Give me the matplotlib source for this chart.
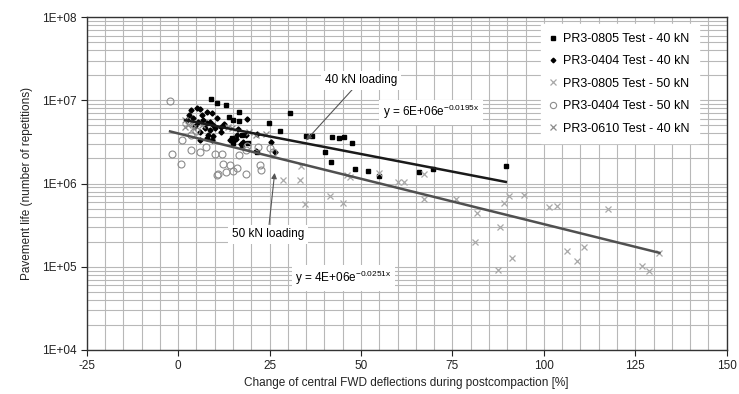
import numpy as np
import matplotlib.pyplot as plt
from matplotlib.ticker import FixedLocator, NullFormatter

plt.rcParams['font.family'] = ['Liberation Sans', 'DejaVu Sans']
plt.rcParams['axes.unicode_minus'] = False

# PR3-0805 Test - 40 kN (black squares)
sq_x = [8.9, 10.7, 13.0, 16.6, 14.9, 16.6, 13.9, 24.8, 17.4, 14.6, 15.1, 17.4, 19.2, 21.5,
        30.7, 27.8, 34.9, 36.7, 42.1, 43.9, 45.3, 47.6, 40.3, 41.7, 48.3, 51.9, 54.9,
        65.8, 69.7, 89.6]
sq_y = [1.03e7, 9.4e6, 8.9e6, 7.2e6, 5.8e6, 5.6e6, 6.3e6, 5.3e6, 3.8e6, 3.5e6, 3.04e6,
        2.9e6, 3.1e6, 2.4e6, 7.1e6, 4.3e6, 3.7e6, 3.7e6, 3.6e6, 3.5e6, 3.6e6, 3.1e6,
        2.4e6, 1.8e6, 1.48e6, 1.4e6, 1.23e6, 1.37e6, 1.48e6, 1.64e6]

# PR3-0404 Test - 40 kN (black diamonds)
dm_x = [3.4, 5.1, 6.0, 6.4, 7.8, 9.2, 2.3, 4.1, 5.5, 6.9, 7.8, 8.7, 9.6, 7.3, 8.7, 10.1,
        6.0, 8.2, 9.6, 6.0, 7.8, 9.2, 11.6, 11.6, 18.9, 16.3, 16.0, 14.2, 17.8, 18.5,
        25.3, 26.6, 21.4, 17.1, 15.8, 21.6, 4.5, 12.5, 3.0, 10.5]
dm_y = [7.6e6, 8.1e6, 7.8e6, 6.65e6, 7.2e6, 7.0e6, 5.8e6, 6.1e6, 5.5e6, 5.8e6, 5.3e6,
        5.5e6, 5.05e6, 4.6e6, 4.4e6, 4.6e6, 4.2e6, 3.83e6, 3.7e6, 3.33e6, 3.5e6, 3.33e6,
        4.2e6, 4.8e6, 5.95e6, 4.5e6, 3.83e6, 3.33e6, 3.18e6, 3.83e6, 3.18e6, 2.4e6,
        2.45e6, 2.95e6, 3.4e6, 3.9e6, 4.9e6, 5.2e6, 6.6e6, 6.2e6]

# PR3-0805 Test - 50 kN (light grey crosses)
xa_x = [33.5, 28.7, 33.3, 34.6, 41.5, 45.1, 46.2, 47.0, 54.9, 60.1, 61.7, 67.2, 67.2,
        75.9, 81.6, 81.1, 87.9, 87.5, 91.4, 89.1, 90.5, 94.6, 101.3, 103.6, 117.5,
        106.4, 109.0, 110.9, 126.8, 128.9, 131.6]
xa_y = [1.64e6, 1.1e6, 1.09e6, 5.6e5, 7.1e5, 5.9e5, 1.26e6, 1.2e6, 1.35e6, 1.05e6,
        1.05e6, 1.3e6, 6.5e5, 6.5e5, 4.4e5, 2.0e5, 2.98e5, 9.1e4, 1.26e5, 5.9e5, 7.1e5,
        7.2e5, 5.25e5, 5.4e5, 5.0e5, 1.55e5, 1.17e5, 1.74e5, 1.02e5, 9.0e4, 1.48e5]

# PR3-0404 Test - 50 kN (open circles)
ci_x = [-2.2, -1.8, 0.7, 3.4, 6.1, 10.1, 12.0, 3.5, 1.1, 7.5, 12.3, 14.3, 11.0, 13.0,
        14.9, 16.0, 18.7, 16.7, 18.5, 18.9, 22.4, 22.6, 21.9, 25.1, 26.0, 10.7, 5.0]
ci_y = [9.8e6, 2.26e6, 1.7e6, 2.5e6, 2.37e6, 2.26e6, 2.26e6, 3.83e6, 3.3e6, 2.75e6,
        1.71e6, 1.68e6, 1.29e6, 1.37e6, 1.4e6, 1.55e6, 1.29e6, 2.2e6, 2.5e6, 2.85e6,
        1.66e6, 1.45e6, 2.75e6, 2.65e6, 2.4e6, 1.26e6, 4.3e6]

# PR3-0610 Test - 40 kN (grey crosses)
xb_x = [1.9, 2.8, 3.7, 4.1, 1.9, 13.7, 14.6, 21.4, 24.0, 6.5, 19.5]
xb_y = [5.8e6, 5.05e6, 5.3e6, 4.6e6, 4.8e6, 4.8e6, 4.6e6, 3.83e6, 3.9e6, 5.0e6, 4.2e6]

# exponential trend lines  y = a * exp(b x)
fit40 = (6e6, -0.0195)
fit50 = (4e6, -0.0251)

fig = plt.figure(figsize=(7.39, 3.94), dpi=100)
ax = fig.add_axes([0.1173, 0.1117, 0.866, 0.845])

ax.set_xlim(-25, 150)
ax.set_yscale('log')
ax.set_ylim(1e4, 1e8)

# grid
ax.xaxis.set_minor_locator(FixedLocator(np.arange(-25, 151, 5)))
ax.grid(True, which='both', axis='x', color='#b8b8b8', lw=0.8)
ax.grid(True, which='both', axis='y', color='#b8b8b8', lw=0.8)
ax.set_axisbelow(True)

ax.plot(sq_x, sq_y, ls='none', marker='s', ms=3.3, color='black',
        label='PR3-0805 Test - 40 kN', zorder=3)
ax.plot(dm_x, dm_y, ls='none', marker='D', ms=2.6, color='black',
        label='PR3-0404 Test - 40 kN', zorder=3)
ax.plot(xa_x, xa_y, ls='none', marker='x', ms=5, mew=0.9, color='#a8a8a8',
        label='PR3-0805 Test - 50 kN', zorder=3)
ax.plot(ci_x, ci_y, ls='none', marker='o', ms=5, mew=0.8, mfc='none', mec='#8c8c8c',
        label='PR3-0404 Test - 50 kN', zorder=3)
ax.plot(xb_x, xb_y, ls='none', marker='x', ms=5, mew=0.9, color='#8c8c8c',
        label='PR3-0610 Test - 40 kN', zorder=3)

# trend lines over each load's data range
x40 = np.concatenate([sq_x, dm_x, xb_x])
x50 = np.concatenate([xa_x, ci_x])
t40 = np.linspace(x40.min(), x40.max(), 50)
t50 = np.linspace(x50.min(), x50.max(), 50)
ax.plot(t40, fit40[0] * np.exp(fit40[1] * t40), color='#1a1a1a', lw=1.8, zorder=4)
ax.plot(t50, fit50[0] * np.exp(fit50[1] * t50), color='#505050', lw=1.8, zorder=4)

box = dict(boxstyle='square,pad=0.3', fc='white', ec='none')
ax.annotate('40 kN loading', xy=(35, 3.3e6), xytext=(50, 1.75e7),
            ha='center', va='center', fontsize=8.5, bbox=box,
            arrowprops=dict(arrowstyle='-|>', color='#555555', lw=0.8,
                            shrinkA=0, shrinkB=0, mutation_scale=8), zorder=5)
ax.annotate('50 kN loading', xy=(26.4, 1.34e6), xytext=(24.6, 2.47e5),
            ha='center', va='center', fontsize=8.5, bbox=box,
            arrowprops=dict(arrowstyle='-|>', color='#555555', lw=0.8,
                            shrinkA=0, shrinkB=0, mutation_scale=8), zorder=5)
ax.text(56, 7.2e6, r'y = 6E+06e$^{\mathregular{-0.0195x}}$', fontsize=8.5,
        va='center', ha='left', bbox=box, zorder=5)
ax.text(32, 7.3e4, r'y = 4E+06e$^{\mathregular{-0.0251x}}$', fontsize=8.5,
        va='center', ha='left', bbox=box, zorder=5)

ax.set_xticks(np.arange(-25, 151, 25))
ax.xaxis.set_minor_formatter(NullFormatter())
ax.set_yticks([1e4, 1e5, 1e6, 1e7, 1e8])
ax.set_yticklabels(['1E+04', '1E+05', '1E+06', '1E+07', '1E+08'])
ax.tick_params(which='major', direction='out', length=4, width=0.8,
               labelsize=8.5, colors='#222222')
ax.tick_params(which='minor', length=0)
for s in ax.spines.values():
    s.set_color('#333333')
    s.set_linewidth(1.0)

ax.set_xlabel('Change of central FWD deflections during postcompaction [%]',
              fontsize=8.5, color='#222222', labelpad=3)
ax.set_ylabel('Pavement life (number of repetitions)', fontsize=8.5,
              color='#222222', labelpad=6)

leg = ax.legend(loc='upper right', bbox_to_anchor=(0.966, 0.997), fontsize=9,
                frameon=True, fancybox=False, framealpha=1, edgecolor='white',
                handlelength=0.6, handletextpad=0.5, labelspacing=0.83,
                borderpad=0.7, markerscale=0.9)

fig.savefig('out.png', dpi=100)
